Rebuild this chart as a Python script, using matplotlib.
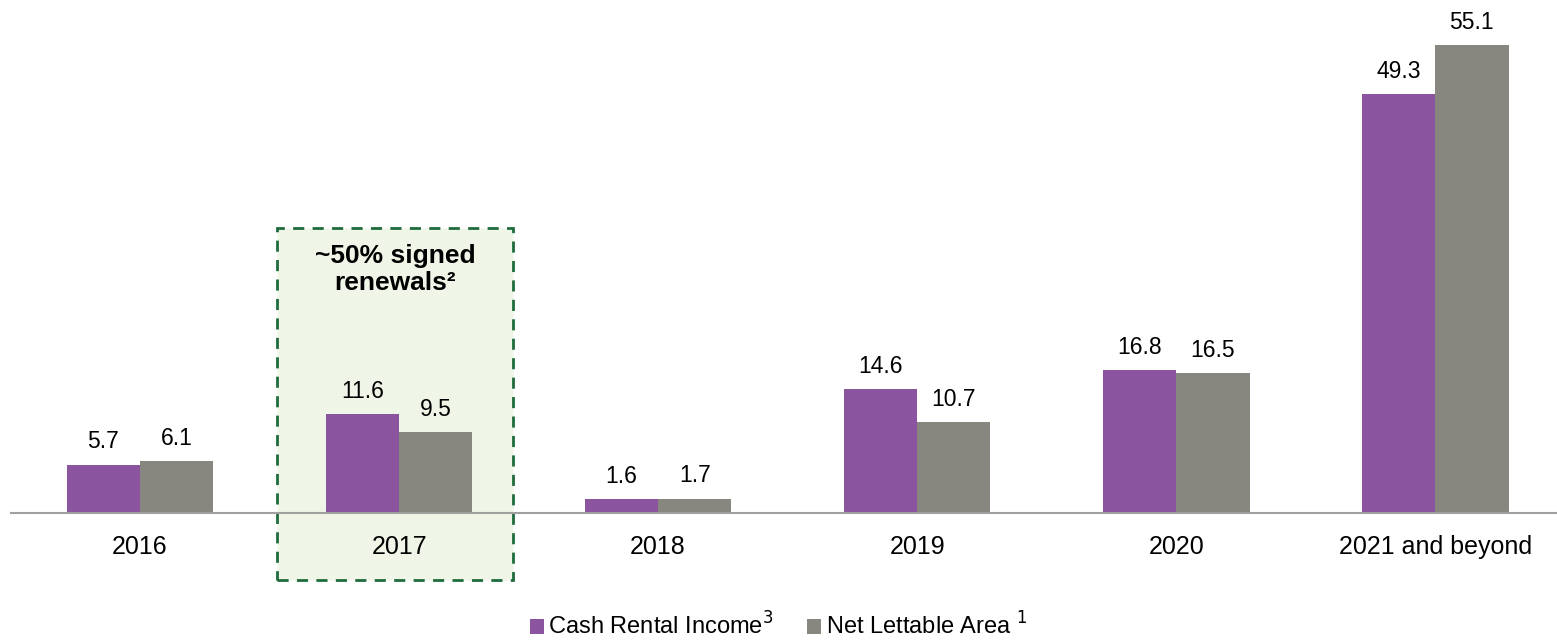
import numpy as np
import matplotlib
matplotlib.use("Agg")
import matplotlib.pyplot as plt
from matplotlib.patches import Rectangle

plt.rcParams["font.family"] = ["Liberation Sans", "DejaVu Sans"]

categories = ["2016", "2017", "2018", "2019", "2020", "2021 and beyond"]
cash_rental = [5.7, 11.6, 1.6, 14.6, 16.8, 49.3]
net_lettable = [6.1, 9.5, 1.7, 10.7, 16.5, 55.1]

purple = "#8B549E"
gray = "#878780"

fig = plt.figure(figsize=(15.57, 6.4), dpi=100)
ax = fig.add_axes([10.5 / 1557, 127 / 640, (1557 - 10.5) / 1557, 513 / 640])

x = np.arange(len(categories))
w = 0.283

# highlight box behind 2017
box = Rectangle((0.53, -7.9), 0.91, 41.5, facecolor="#EFF5E7", edgecolor="#1E6B3C",
                linestyle=(0, (4, 3)), linewidth=2, clip_on=False, zorder=0)
ax.add_patch(box)
ax.text(0.985, 28.7, "~50% signed\nrenewals²", ha="center", va="center",
        fontsize=19, fontweight="bold", linespacing=1.15, zorder=3)

b1 = ax.bar(x - w / 2, cash_rental, w, color=purple, label="Cash Rental Income$^{3}$", zorder=2)
b2 = ax.bar(x + w / 2, net_lettable, w, color=gray, label="Net Lettable Area $^{1}$", zorder=2)

for bars, vals in ((b1, cash_rental), (b2, net_lettable)):
    for rect, v in zip(bars, vals):
        ax.annotate(f"{v:.1f}", (rect.get_x() + rect.get_width() / 2, v),
                    xytext=(0, 8), textcoords="offset points",
                    ha="center", va="bottom", fontsize=16.5)

ax.set_xlim(-0.5, 5.47)
ax.set_ylim(0, 60.4)
ax.set_xticks(x)
ax.set_xticklabels(categories, fontsize=18)
ax.tick_params(axis="x", length=0, pad=16)
ax.set_yticks([])
for s in ["top", "right", "left"]:
    ax.spines[s].set_visible(False)
ax.spines["bottom"].set_color("#A0A0A0")
ax.spines["bottom"].set_linewidth(1.5)
ax.patch.set_alpha(0)

fig.legend(handles=[b1, b2], loc="center", bbox_to_anchor=(0.5, 14 / 640),
           ncol=2, frameon=False, fontsize=17, handlelength=0.6, handleheight=0.6,
           handletextpad=0.2, columnspacing=1.4)

fig.savefig("out.png", dpi=100)
